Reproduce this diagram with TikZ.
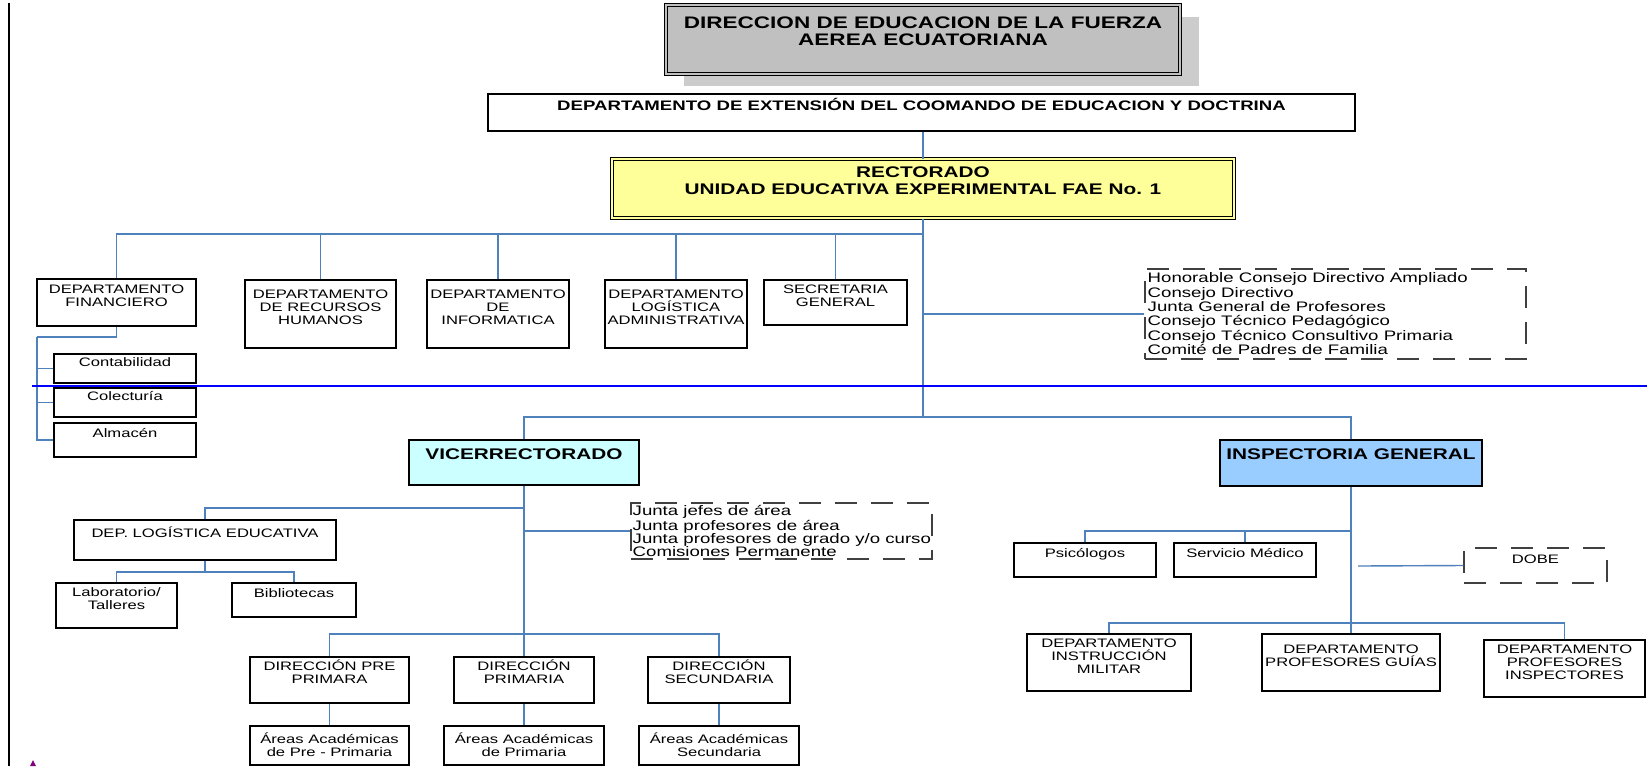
\documentclass[tikz,border=0pt]{standalone}
\usepackage{fontspec}
\setmainfont{Liberation Sans}[FakeStretch=1.35]
\usetikzlibrary{fit,calc}

\definecolor{connblue}{RGB}{79,129,189}
\definecolor{titlegray}{RGB}{192,192,192}
\definecolor{shadowgray}{RGB}{204,204,204}
\definecolor{rectyellow}{RGB}{255,255,153}
\definecolor{vicecyan}{RGB}{204,255,255}
\definecolor{inspblue}{RGB}{153,204,255}
\definecolor{dashgray}{RGB}{64,64,64}
\definecolor{markpurple}{RGB}{128,0,128}

\newcommand\fntreg{\fontsize{6.15pt}{6.5pt}\selectfont}
\newcommand\fntbold{\fontsize{7.7pt}{8.5pt}\selectfont\bfseries}
\newcommand\fnttitle{\fontsize{8.35pt}{8.4pt}\selectfont\bfseries}
\newcommand\fntext{\fontsize{6.9pt}{7.5pt}\selectfont\bfseries}
\newcommand\fntlist{\fontsize{6.9pt}{7.2pt}\selectfont}
\newcommand\tstrut{\rule{0pt}{1em}}
% text of a box, hung below its top edge
\newcommand\boxtext[4][]{\node[txt,#1] (#2-t) at ($(#2.north)+(0,#3)$) {\tstrut #4};}

\begin{document}
\begin{tikzpicture}[x=0.5pt,y=-0.5pt,
  box/.style={draw=black, line width=0.7pt, inner sep=0pt, fill=white},
  dbox/.style={draw=dashgray, line width=0.7pt, dash pattern=on 11pt off 7pt, inner sep=0pt},
  txt/.style={anchor=north, inner sep=0pt, align=center, font=\fntreg},
  conn/.style={draw=connblue, line width=0.7pt},
  trunk/.style={draw=connblue, line width=1pt}]
\useasboundingbox (0,0) rectangle (1647,766);
\fill[white] (0,0) rectangle (1647,766);

% page margin rule
\draw[line width=0.9pt] (8.6,3) -- (8.6,766);

% ---- top levels
\fill[shadowgray] (684,17) rectangle (1199,86);
\node[box, fit={(666,5) (1180,74)}, fill=titlegray, line width=0.5pt, double=titlegray, double distance=1.2pt] (title) {};
\boxtext[font=\fnttitle]{title}{7.3}{DIRECCION DE EDUCACION DE LA FUERZA\\AEREA ECUATORIANA}

\node[box, fit={(488,94) (1355,131)}] (ext) {};
\boxtext[font=\fntext]{ext}{2.5}{DEPARTAMENTO DE EXTENSIÓN DEL COOMANDO DE EDUCACION Y DOCTRINA}

\node[box, fit={(612,159) (1234,218)}, fill=rectyellow, line width=0.5pt, double=rectyellow, double distance=1.2pt] (rect) {};
\boxtext[font=\fntbold]{rect}{3.1}{RECTORADO\\UNIDAD EDUCATIVA EXPERIMENTAL FAE No. 1}

% ---- departments under the rectorate
\node[box, fit={(37,279) (196,326)}] (fin) {};
\boxtext{fin}{2.1}{DEPARTAMENTO\\FINANCIERO}
\node[box, fit={(245,280) (396,348)}] (rrhh) {};
\boxtext{rrhh}{6.1}{DEPARTAMENTO\\DE RECURSOS\\HUMANOS}
\node[box, fit={(427,280) (569,348)}] (inf) {};
\boxtext{inf}{6.1}{DEPARTAMENTO\\DE\\INFORMATICA}
\node[box, fit={(605,280) (747,348)}] (logad) {};
\boxtext{logad}{6.1}{DEPARTAMENTO\\LOGÍSTICA\\ADMINISTRATIVA}
\node[box, fit={(764,280) (907,325)}] (sec) {};
\boxtext{sec}{1.1}{SECRETARIA\\GENERAL}

\node[box, fit={(54,354) (196,383)}] (cont) {};
\boxtext{cont}{0}{Contabilidad}
\node[box, fit={(54,388) (196,417)}] (cole) {};
\boxtext{cole}{0.1}{Colecturía}
\node[box, fit={(54,423) (196,457)}] (alm) {};
\boxtext{alm}{2.1}{Almacén}

\node[dbox, fit={(1145,269) (1526,359)}] (hon) {};
\node[txt, anchor=north west, align=left, font=\fntlist] (hon-t) at ($(hon.north west)+(3,0.1)$)
  {\tstrut Honorable Consejo Directivo Ampliado\\Consejo Directivo\\Junta General de Profesores\\Consejo Técnico Pedagógico\\Consejo Técnico Consultivo Primaria\\Comité de Padres de Familia};

% ---- vice-rectorate
\node[box, fit={(409,440) (639,485)}, fill=vicecyan] (vice) {};
\boxtext[font=\fntbold]{vice}{4.1}{VICERRECTORADO}
\node[box, fit={(74,520) (336,560)}] (dle) {};
\boxtext{dle}{5.1}{DEP. LOGÍSTICA EDUCATIVA}
\node[box, fit={(56,583) (177,628)}] (lab) {};
\boxtext{lab}{1.1}{Laboratorio/\\Talleres}
\node[box, fit={(232,583) (356,617)}] (bib) {};
\boxtext{bib}{2.1}{Bibliotecas}
\node[dbox, fit={(631,503) (932,559)}] (junta) {};
\node[txt, anchor=north west, align=left, font={\fontsize{6.9pt}{6.5pt}\selectfont}] (junta-t) at ($(junta.north west)+(2,-0.9)$)
  {\tstrut Junta jefes de área\\Junta profesores de área\\Junta profesores de grado y/o curso\\Comisiones Permanente};
\node[box, fit={(250,657) (409,703)}] (dpre) {};
\boxtext{dpre}{1.1}{DIRECCIÓN PRE\\PRIMARA}
\node[box, fit={(454,657) (594,703)}] (dprim) {};
\boxtext{dprim}{1.1}{DIRECCIÓN\\PRIMARIA}
\node[box, fit={(648,657) (790,703)}] (dsec) {};
\boxtext{dsec}{1.1}{DIRECCIÓN\\SECUNDARIA}
\node[box, fit={(250,726) (409,765)}] (apre) {};
\boxtext{apre}{5.1}{Áreas Académicas\\de Pre - Primaria}
\node[box, fit={(444,726) (604,765)}] (aprim) {};
\boxtext{aprim}{5.1}{Áreas Académicas\\de Primaria}
\node[box, fit={(639,726) (799,765)}] (asec) {};
\boxtext{asec}{5.1}{Áreas Académicas\\Secundaria}

% ---- general inspectorate
\node[box, fit={(1220,440) (1482,486)}, fill=inspblue] (insp) {};
\boxtext[font=\fntbold]{insp}{4.1}{INSPECTORIA GENERAL}
\node[box, fit={(1014,543) (1156,577)}] (psi) {};
\boxtext{psi}{2.1}{Psicólogos}
\node[box, fit={(1174,543) (1316,577)}] (med) {};
\boxtext{med}{2.1}{Servicio Médico}
\node[dbox, fit={(1464,548) (1607,583)}] (dobe) {};
\boxtext{dobe}{3.1}{DOBE}
\node[box, fit={(1027,634) (1191,691)}] (mil) {};
\boxtext{mil}{1.1}{DEPARTAMENTO\\INSTRUCCIÓN\\MILITAR}
\node[box, fit={(1262,634) (1440,691)}] (pg) {};
\boxtext{pg}{7.1}{DEPARTAMENTO\\PROFESORES GUÍAS}
\node[box, fit={(1484,640) (1645,697)}] (pi) {};
\boxtext{pi}{1.1}{DEPARTAMENTO\\PROFESORES\\INSPECTORES}

% ---- connectors
\coordinate (busTop) at (923,234);
\coordinate (busMid) at (923,417);
\draw[trunk] (ext.south -| rect.north) -- (rect.north);
\draw[trunk] (rect.south) -- (busMid);
\foreach \n in {fin,rrhh,inf,logad,sec} \draw[conn] (\n.north) |- (busTop);
\draw[conn] (hon.west) -- (hon.west -| rect.south);
\draw[conn] (vice.north) |- (busMid);
\draw[conn] (insp.north) |- (busMid);

\coordinate (finBus) at (37,337);
\draw[conn] (fin.south) |- (finBus);
\foreach \n in {cont,cole,alm} \draw[conn] (finBus) |- (\n.west);

\coordinate (viceLog) at (524,508);
\coordinate (viceDir) at (524,634);
\draw[trunk] (vice.south) -- (dprim.north);
\draw[conn] (dle.north) |- (viceLog);
\draw[conn] (junta.west) -- (junta.west -| vice.south);
\draw[conn] (dpre.north) |- (viceDir);
\draw[conn] (dsec.north) |- (viceDir);
\coordinate (logBus) at (205,572);
\draw[conn] (dle.south) -- (logBus);
\draw[conn] (lab.north) |- (logBus);
\draw[conn] (bib.north) |- (logBus);
\draw[conn] (dpre.south) -- (apre.north);
\draw[conn] (dprim.south) -- (aprim.north -| dprim.south);
\draw[conn] (dsec.south) -- (asec.north);

\coordinate (inspUp) at (1351,531);
\coordinate (inspLow) at (1351,623);
\draw[trunk] (insp.south) -- (pg.north);
\draw[conn] (psi.north) |- (inspUp);
\draw[conn] (med.north) |- (inspUp);
\draw[conn] (mil.north) |- (inspLow);
\draw[conn] (pi.north) |- (inspLow);
\coordinate (dobeStub) at (1358,566);
\draw[conn] (dobeStub) -- (dobe.west);

% horizontal blue rule across the page
\draw[blue, line width=1pt] (32,386) -- (1647,386);

% small purple mark at the foot of the margin
\fill[markpurple] (30,766) -- (36,766) -- (33,760) -- cycle;
\end{tikzpicture}
\end{document}
